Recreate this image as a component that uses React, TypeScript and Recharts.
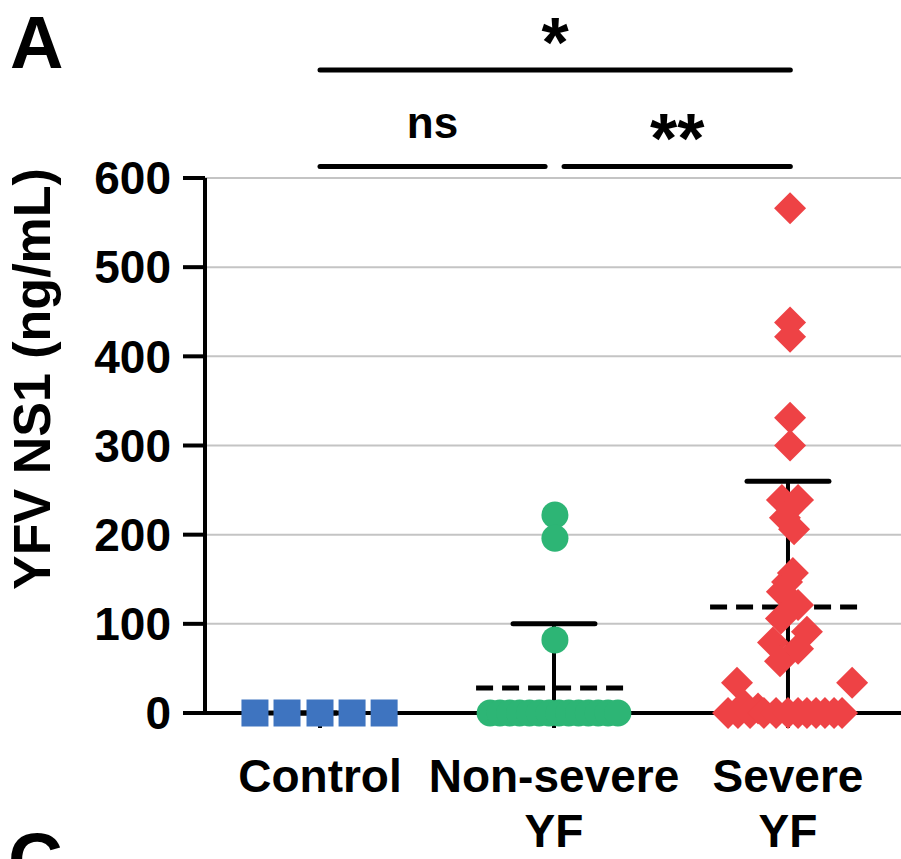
import React from 'react';
import { ScatterChart, Scatter, XAxis, YAxis, CartesianGrid, ReferenceLine } from 'recharts';

const FONT = "'Liberation Sans', Arial, Helvetica, sans-serif";

// groups on the x axis
const categories = ['Control', 'Non-severe\nYF', 'Severe\nYF'];
const groupPositions = [1, 2, 3];

// YFV NS1 (ng/mL) per subject, with the horizontal scatter offset
const controlValues = [0, 0, 0, 0, 0];
const controlJitter = [-0.278, -0.141, 0, 0.137, 0.274];

const nonSevereValues = [222, 196, 82, 0, 0, 0, 0, 0, 0, 0, 0, 0, 0, 0, 0, 0, 0];
const nonSevereJitter = [0.004, 0.004, 0.004, -0.273, -0.231, -0.189, -0.147, -0.105, -0.063, -0.021, 0.021, 0.063, 0.105, 0.147, 0.189, 0.231, 0.273];

const severeValues = [
  566, 438, 422, 331, 300, 239, 239, 219, 206, 157, 147, 136, 121, 106, 91, 79, 72, 58, 34, 34, 9, 5,
  0, 0, 0, 0, 0, 0, 0, 0, 0, 0, 0, 0,
];
const severeJitter = [
  0.009, 0.009, 0.009, 0.009, 0.009, -0.026, 0.043, -0.013, 0.026, 0.021, -0.004, -0.026, 0.043, -0.03, 0.081, -0.064, 0.043, -0.034, -0.218, 0.274, -0.188, -0.128,
  -0.256, -0.214, -0.162, -0.103, -0.051, 0, 0.043, 0.081, 0.12, 0.158, 0.197, 0.231,
];

// mean and mean + SD per group
const groupMeans = [0, 28, 119];
const groupUpperSD = [0, 100, 260];

const yTicks = [0, 100, 200, 300, 400, 500, 600];

// significance brackets
const brackets = [
  { from: 1, to: 3.01, level: 721, label: '*' },
  { from: 1, to: 1.962, level: 613, label: 'ns' },
  { from: 2.043, to: 3.01, level: 613, label: '**' },
];

const toPoints = (values: number[], jitter: number[], g: number) =>
  values.map((v, i) => ({ x: groupPositions[g] + jitter[i], y: v }));

const controlPoints = toPoints(controlValues, controlJitter, 0);
const nonSeverePoints = toPoints(nonSevereValues, nonSevereJitter, 1);
const severePoints = toPoints(severeValues, severeJitter, 2);

const meanLines = groupPositions.map((g, i) => [
  { x: g - 0.333, y: groupMeans[i] },
  { x: g + 0.333, y: groupMeans[i] },
]);
const sdLines = groupPositions.map((g, i) => [
  { x: g, y: 0 },
  { x: g, y: groupUpperSD[i] },
]);
const sdCaps = groupPositions.map((g, i) => [
  { x: g - 0.175, y: groupUpperSD[i] },
  { x: g + 0.175, y: groupUpperSD[i] },
]);

const SquareDot = (p: any) => <rect x={p.cx - 13.5} y={p.cy - 13.5} width={27} height={27} fill="#3e74c0" />;
const CircleDot = (p: any) => <circle cx={p.cx} cy={p.cy} r={13.5} fill="#2db575" />;
const DiamondDot = (p: any) => (
  <polygon
    points={`${p.cx},${p.cy - 16} ${p.cx + 16},${p.cy} ${p.cx},${p.cy + 16} ${p.cx - 16},${p.cy}`}
    fill="#ee4245"
  />
);
const NoDot = () => <g />;

const XTick = (props: any) => {
  const { x, y, payload } = props;
  const lines = categories[groupPositions.indexOf(payload.value)].split('\n');
  return (
    <text x={x} y={y} textAnchor="middle" fontFamily={FONT} fontWeight="bold" fontSize={46} fill="#000">
      {lines.map((l, i) => (
        <tspan key={i} x={x} dy={i === 0 ? 62 : 55}>
          {l}
        </tspan>
      ))}
    </text>
  );
};

const YTitle = () => (
  <text
    transform="translate(50, 379) rotate(-90)"
    textAnchor="middle"
    fontFamily={FONT}
    fontWeight="bold"
    fontSize={52}
    fill="#000"
  >
    YFV NS1 (ng/mL)
  </text>
);

const BracketLabel = (props: any) => {
  const { viewBox, text } = props;
  const star = text !== 'ns';
  const cx = viewBox.x + viewBox.width / 2;
  return (
    <text
      x={cx}
      y={viewBox.y + (star ? -3 : -28)}
      textAnchor="middle"
      fontFamily={FONT}
      fontWeight="bold"
      fontSize={star ? 70 : 44}
      fill="#000"
    >
      {text}
    </text>
  );
};

export default function App() {
  return (
    <div style={{ position: 'absolute', left: 0, top: 0, width: 901, height: 859, background: '#fff' }}>
      <ScatterChart width={901} height={859} margin={{ top: 178, right: 0, bottom: 0, left: 0 }}>
        <CartesianGrid vertical={false} stroke="#c4c4c4" strokeWidth={2} />
        <XAxis
          type="number"
          dataKey="x"
          domain={[0.5085, 3.483]}
          ticks={groupPositions}
          height={146}
          tick={<XTick />}
          tickSize={15}
          tickMargin={2}
          axisLine={{ stroke: '#000', strokeWidth: 4 }}
          tickLine={{ stroke: '#000', strokeWidth: 4 }}
          allowDataOverflow
        />
        <YAxis
          type="number"
          dataKey="y"
          domain={[0, 600]}
          ticks={yTicks}
          width={205}
          tickSize={22}
          tickMargin={12}
          axisLine={{ stroke: '#000', strokeWidth: 4 }}
          tickLine={{ stroke: '#000', strokeWidth: 4 }}
          tick={{ fill: '#000', fontSize: 46, fontWeight: 'bold', fontFamily: FONT }}
          label={<YTitle />}
        />
        {meanLines.map((d, i) => (
          <Scatter
            key={`m${i}`}
            data={d}
            shape={NoDot}
            line={{ stroke: '#000', strokeWidth: 5, strokeDasharray: '17 9' }}
            isAnimationActive={false}
          />
        ))}
        {sdLines.map((d, i) => (
          <Scatter key={`s${i}`} data={d} shape={NoDot} line={{ stroke: '#000', strokeWidth: 4 }} isAnimationActive={false} />
        ))}
        {sdCaps.map((d, i) => (
          <Scatter
            key={`c${i}`}
            data={d}
            shape={NoDot}
            line={{ stroke: '#000', strokeWidth: 5, strokeLinecap: 'round' }}
            isAnimationActive={false}
          />
        ))}
        <Scatter data={controlPoints} shape={SquareDot} isAnimationActive={false} />
        <Scatter data={nonSeverePoints} shape={CircleDot} isAnimationActive={false} />
        <Scatter data={severePoints} shape={DiamondDot} isAnimationActive={false} />
        {brackets.map((b, i) => (
          <ReferenceLine
            key={`b${i}`}
            segment={[
              { x: b.from, y: b.level },
              { x: b.to, y: b.level },
            ]}
            ifOverflow="visible"
            stroke="#000"
            strokeWidth={5}
            strokeLinecap="round"
            label={<BracketLabel text={b.label} />}
          />
        ))}
      </ScatterChart>
      <svg width={901} height={859} style={{ position: 'absolute', left: 0, top: 0, pointerEvents: 'none' }}>
        <text x={10} y={68} fontFamily={FONT} fontWeight="bold" fontSize={74} fill="#000">
          A
        </text>
        <text x={8} y={886} fontFamily={FONT} fontWeight="bold" fontSize={76} fill="#000">
          C
        </text>
      </svg>
    </div>
  );
}
